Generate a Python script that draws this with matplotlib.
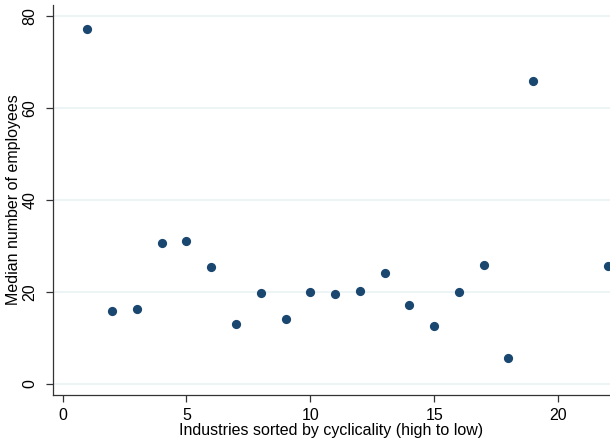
import matplotlib.pyplot as plt

plt.rcParams["font.family"] = ["Liberation Sans", "DejaVu Sans"]

# Industries sorted by cyclicality and median firm size
industry = [1, 2, 3, 4, 5, 6, 7, 8, 9, 10, 11, 12, 13, 14, 15, 16, 17, 18, 19, 22]
median_emp = [77.0, 15.8, 16.3, 30.6, 31.0, 25.4, 13.0, 19.7, 14.1, 20.0,
              19.5, 20.2, 24.1, 17.1, 12.6, 20.0, 25.8, 5.6, 65.7, 25.6]

navy = "#1a476f"

fig = plt.figure(figsize=(6.1, 4.42), dpi=100)
ax = fig.add_axes([0.0864, 0.1063, 0.9136, 0.8824])

ax.scatter(industry, median_emp, s=44, color=navy, zorder=3, clip_on=False,
           linewidths=0)

ax.set_xlim(-0.4, 22.1)
ax.set_ylim(-2.4, 82.3)
ax.set_xticks([0, 5, 10, 15, 20])
ax.set_yticks([0, 20, 40, 60, 80])
ax.grid(axis="y", color="#eaf2f3", linewidth=1.2, zorder=0)
ax.set_axisbelow(True)

for side in ["top", "right"]:
    ax.spines[side].set_visible(False)
for side in ["left", "bottom"]:
    ax.spines[side].set_color("#333333")
    ax.spines[side].set_linewidth(0.9)

ax.tick_params(axis="both", direction="out", length=5, width=0.9,
               color="#333333", labelsize=11.5)
ax.tick_params(axis="y", pad=6)
ax.tick_params(axis="x", pad=4)
for lbl in ax.get_yticklabels():
    lbl.set_rotation(90)
    lbl.set_va("center")

ax.set_ylabel("Median number of employees", fontsize=11.5, labelpad=1)
ax.set_xlabel("Industries sorted by cyclicality (high to low)", fontsize=11.5,
              labelpad=0)

fig.savefig("out.png", dpi=100)
